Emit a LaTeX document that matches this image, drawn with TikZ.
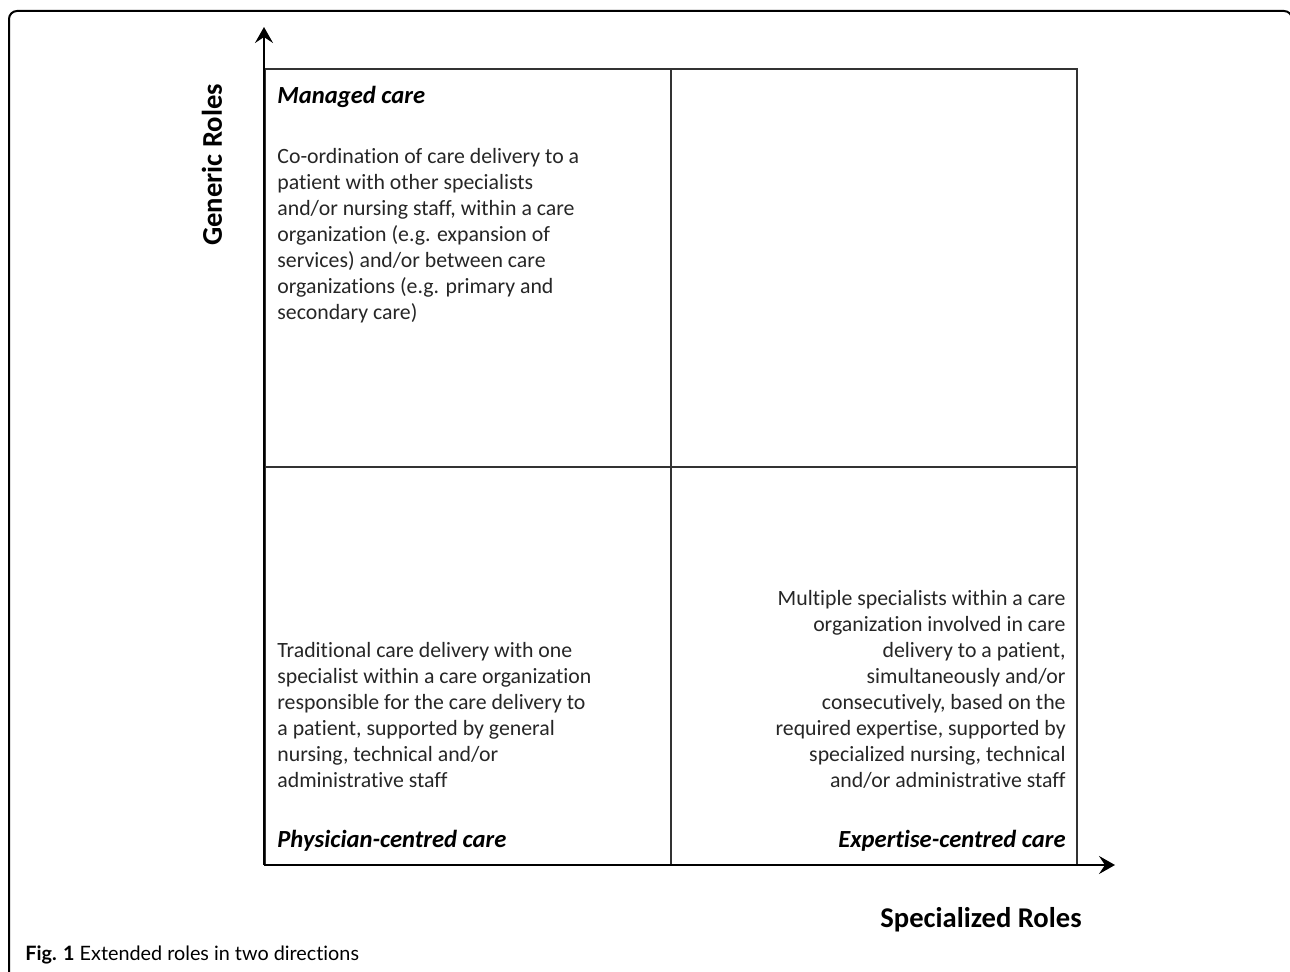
\documentclass[tikz,border=0pt]{standalone}
\usepackage{fontspec}
\setmainfont{Carlito}[Ligatures={NoCommon}]
\newfontfamily\capfont{Lato}[Ligatures={NoCommon}]
\usetikzlibrary{arrows.meta}

\begin{document}
\begin{tikzpicture}[x=0.5pt,y=-0.5pt,
    body/.style={inner sep=0pt, text=black!85, font=\fontsize{10.9}{13}\selectfont},
    quadtitle/.style={inner sep=0pt, text=black, font=\fontsize{12.3}{14}\selectfont\bfseries\itshape},
    axislabel/.style={inner sep=0pt, text=black, font=\fontsize{14.3}{17}\selectfont\bfseries},
    gridline/.style={draw=black!80, line width=0.7pt},
    axis/.style={line width=1.2pt, -{Stealth[length=8pt,width=9pt,inset=3pt]}}]
    \useasboundingbox (0,0) rectangle (1290,972);
    \clip (0,0) rectangle (1290,972);
    % frame of the figure
    \draw[line width=1pt, rounded corners=4pt] (9,1010) -- (9,11) -- (1292,11) -- (1292,1010);
    % quadrants
    \coordinate (tl) at (265,69);
    \coordinate (br) at (1077,865);
    \coordinate (mt) at (671,69);
    \coordinate (mb) at (671,865);
    \coordinate (ml) at (265,467);
    \coordinate (mr) at (1077,467);
    \draw[gridline] (tl) rectangle (br);
    \draw[gridline] (mt) -- (mb);
    \draw[gridline] (ml) -- (mr);
    % axes
    \coordinate (O) at (264,865);
    \coordinate (ytip) at (264,27);
    \coordinate (xtip) at (1115,865);
    \draw[axis] (O) -- (ytip);
    \draw[axis] (O) -- (xtip);
    \node[axislabel, rotate=90] (generic) at (212,165) {Generic Roles};
    \node[axislabel] (special) at (981,920) {Specialized Roles};
    % managed care
    \node[quadtitle, anchor=west] (managed) at (277,97) {Managed care};
    \node[body, anchor=north west, align=left] (managedtxt) at (277,148)
        {Co-ordination of care delivery to a\\
         patient with other specialists\\
         and/or nursing staff, within a care\\
         organization (e.g. expansion of\\
         services) and/or between care\\
         organizations (e.g. primary and\\
         secondary care)};
    % physician-centred care
    \node[body, anchor=north west, align=left] (physiciantxt) at (277,642)
        {Traditional care delivery with one\\
         specialist within a care organization\\
         responsible for the care delivery to\\
         a patient, supported by general\\
         nursing, technical and/or\\
         administrative staff};
    \node[quadtitle, anchor=west] (physician) at (277,841) {Physician-centred care};
    % expertise-centred care
    \node[body, anchor=north east, align=right] (expertisetxt) at (1066,590)
        {Multiple specialists within a care\\
         organization involved in care\\
         delivery to a patient,\\
         simultaneously and/or\\
         consecutively, based on the\\
         required expertise, supported by\\
         specialized nursing, technical\\
         and/or administrative staff};
    \node[quadtitle, anchor=east] (expertise) at (1066,841) {Expertise-centred care};
    % caption
    \node[inner sep=0pt, anchor=west, font=\capfont\fontsize{9.9}{11}\selectfont] (caption) at (25,955)
        {\textbf{Fig. 1} Extended roles in two directions};
\end{tikzpicture}
\end{document}
